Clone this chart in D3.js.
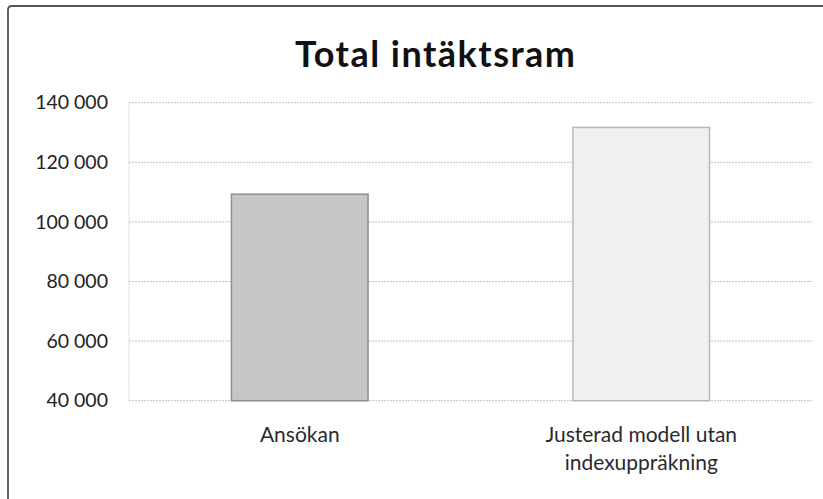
<!DOCTYPE html>
<html>
<head>
<meta charset="utf-8">
<script src="https://cdn.jsdelivr.net/npm/d3@7/dist/d3.min.js"></script>
<style>
  html, body { margin: 0; padding: 0; background: #fff; overflow: hidden; }
  svg { display: block; }
</style>
</head>
<body>
<script>
const title = "Total intäktsram";
const categories = ["Ansökan", "Justerad modell utan indexuppräkning"];
const categoryLines = [["Ansökan"], ["Justerad modell utan", "indexuppräkning"]];
const values = [109300, 131700];
const tickValues = [40000, 60000, 80000, 100000, 120000, 140000];
const tickLabels = ["40 000", "60 000", "80 000", "100 000", "120 000", "140 000"];
const barFills = ["#c6c6c6", "#f0f0f0"];
const barStrokes = ["#8f8f8f", "#b8b8b8"];

const W = 823, H = 499;
const svg = d3.select("body").append("svg").attr("width", W).attr("height", H);

// outer frame (only top and left edges visible in the scan)
svg.append("path")
  .attr("d", `M8,${H} L8,10 Q8,6 12,6 L${W},6`)
  .attr("fill", "none").attr("stroke", "#555").attr("stroke-width", 1.8);

const plot = { left: 129, right: 812, top: 102.7, bottom: 400.7 };

const x = d3.scaleBand().domain(categories)
  .range([plot.left, plot.right]).paddingInner(0.6).paddingOuter(0.3);
const y = d3.scaleLinear().domain([40000, 140000]).range([plot.bottom, plot.top]);

// title
svg.append("text")
  .attr("x", 435).attr("y", 67)
  .attr("text-anchor", "middle")
  .attr("font-family", "Lato, 'Open Sans', sans-serif")
  .attr("font-weight", "bold")
  .attr("font-size", 36)
  .attr("textLength", 280)
  .attr("lengthAdjust", "spacing")
  .attr("fill", "#111")
  .text(title);

// gridlines
const grid = svg.append("g");
grid.selectAll("line").data(tickValues).join("line")
  .attr("x1", plot.left).attr("x2", plot.right)
  .attr("y1", d => y(d)).attr("y2", d => y(d))
  .attr("stroke", "#c2c2c2").attr("stroke-width", 1)
  .attr("stroke-dasharray", "2,1");
// left plot edge
svg.append("line")
  .attr("x1", plot.left).attr("x2", plot.left)
  .attr("y1", plot.top).attr("y2", plot.bottom)
  .attr("stroke", "#d2d2d2").attr("stroke-dasharray", "2,1");

// y axis labels
const yAxis = d3.axisLeft(y).tickValues(tickValues)
  .tickFormat((d, i) => tickLabels[i]).tickSize(0).tickPadding(21);
const ya = svg.append("g").attr("transform", `translate(${plot.left},0)`).call(yAxis);
ya.select(".domain").remove();
ya.selectAll("text")
  .attr("font-family", "Lato, 'Open Sans', sans-serif")
  .attr("font-size", 19.5)
  .attr("fill", "#222");

// bars
svg.append("g").selectAll("rect").data(values).join("rect")
  .attr("x", (d, i) => x(categories[i]))
  .attr("width", x.bandwidth())
  .attr("y", d => y(d))
  .attr("height", d => y(40000) - y(d))
  .attr("fill", (d, i) => barFills[i])
  .attr("stroke", (d, i) => barStrokes[i])
  .attr("stroke-width", 1.5);

// category labels
const xl = svg.append("g");
categories.forEach((c, i) => {
  const cx = x(c) + x.bandwidth() / 2;
  const t = xl.append("text")
    .attr("x", cx)
    .attr("y", 442)
    .attr("text-anchor", "middle")
    .attr("font-family", "Lato, 'Open Sans', sans-serif")
    .attr("font-size", 21)
    .attr("fill", "#2a2a2a");
  categoryLines[i].forEach((ln, j) => {
    t.append("tspan").attr("x", cx).attr("dy", j === 0 ? 0 : 28).text(ln);
  });
});
</script>
</body>
</html>
